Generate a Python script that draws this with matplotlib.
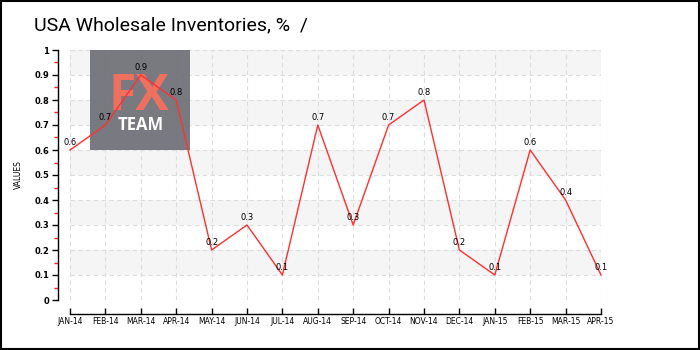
import matplotlib
matplotlib.use("Agg")
import matplotlib.pyplot as plt
from matplotlib.patches import Rectangle

months = ["JAN-14", "FEB-14", "MAR-14", "APR-14", "MAY-14", "JUN-14", "JUL-14", "AUG-14",
          "SEP-14", "OCT-14", "NOV-14", "DEC-14", "JAN-15", "FEB-15", "MAR-15", "APR-15"]
values = [0.6, 0.7, 0.9, 0.8, 0.2, 0.3, 0.1, 0.7, 0.3, 0.7, 0.8, 0.2, 0.1, 0.6, 0.4, 0.1]
y_ticks = [0, 0.1, 0.2, 0.3, 0.4, 0.5, 0.6, 0.7, 0.8, 0.9, 1]
y_tick_labels = ["0", "0.1", "0.2", "0.3", "0.4", "0.5", "0.6", "0.7", "0.8", "0.9", "1"]

fig = plt.figure(figsize=(7, 3.5), dpi=100)
fig.patch.set_facecolor("white")
fig.patches.append(Rectangle((0.001, 0.003), 0.997, 0.994, transform=fig.transFigure,
                             fill=False, edgecolor="black", linewidth=1.5))

ax = fig.add_axes([70 / 700, 50 / 350, 531 / 700, 250 / 350])
x = list(range(len(months)))

ax.set_xlim(0, len(months) - 1)
ax.set_ylim(0, 1)

# alternating horizontal bands
for lo in [0.1, 0.3, 0.5, 0.7, 0.9]:
    ax.axhspan(lo, lo + 0.1, color="#f5f5f5", zorder=0, linewidth=0)

for yv in y_ticks:
    ax.axhline(yv, color="#dddddd", linestyle=(0, (4, 3)), linewidth=0.8, zorder=1)
for xv in x:
    ax.axvline(xv, color="#dddddd", linestyle=(0, (4, 3)), linewidth=0.8, zorder=1)

# logo block, sitting under the series line
ax.add_patch(Rectangle((90 / 700, 1 - 150 / 350), 100 / 700, 100 / 350,
                       transform=fig.transFigure, facecolor="#6e6e76",
                       edgecolor="none", zorder=2, alpha=0.92, clip_on=False))
ax.text(139 / 700, 1 - 110 / 350, "FX", transform=fig.transFigure, color="#f07060",
        fontsize=36, fontweight="bold", family="Open Sans",
        ha="center", va="baseline", zorder=2.5)
ax.text(141 / 700, 1 - 130 / 350, "TEAM", transform=fig.transFigure, color="white",
        fontsize=12, fontweight="bold", family="Open Sans",
        ha="center", va="baseline", zorder=2.5)

ax.plot(x, values, color="#ff3030", linewidth=1, zorder=3, clip_on=False)
for xi, v in zip(x, values):
    ax.annotate(f"{v:g}", (xi, v), xytext=(0, 2.5), textcoords="offset points",
                ha="center", va="bottom", fontsize=6, color="black", zorder=4)

for side in ["top", "right"]:
    ax.spines[side].set_visible(False)
ax.spines["left"].set_position(("outward", 9))
ax.spines["bottom"].set_position(("outward", 10))
ax.spines["left"].set_linewidth(1)
ax.spines["bottom"].set_linewidth(1)

ax.set_yticks(y_ticks)
ax.set_yticklabels(y_tick_labels, fontsize=6, fontweight="bold")
ax.set_yticks([0.05 + 0.1 * i for i in range(10)], minor=True)
ax.tick_params(axis="y", which="major", length=4, width=1, direction="out", pad=2)
ax.tick_params(axis="y", which="minor", length=3, width=1, color="#ff2020", direction="out")

ax.set_xticks(x)
ax.set_xticklabels(months, fontsize=5.5)
ax.tick_params(axis="x", which="major", length=4, width=1, direction="in", pad=2)

ax.set_ylabel("VALUES", fontsize=5.5, labelpad=8)

fig.text(34 / 700, 1 - 25 / 350, "USA Wholesale Inventories, %  /", fontsize=14,
         ha="left", va="center", color="black", family="Roboto")

fig.savefig("out.png", dpi=100)
